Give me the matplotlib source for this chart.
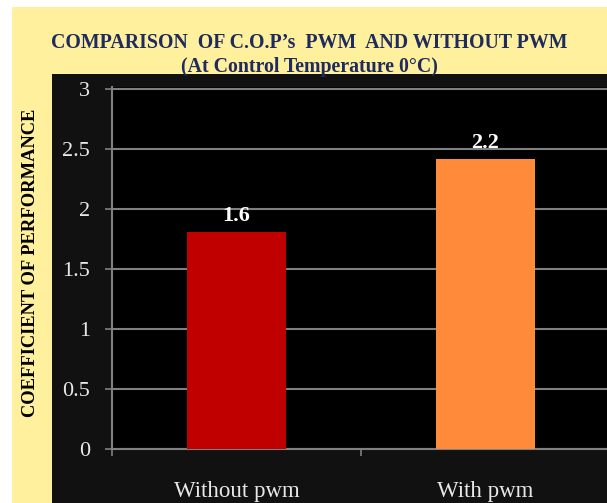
import matplotlib
matplotlib.use("Agg")
import matplotlib.pyplot as plt
from matplotlib.patches import Rectangle

categories = ["Without pwm", "With pwm"]
values = [1.81, 2.42]
value_labels = ["1.6", "2.2"]
bar_colors = ["#C00000", "#FF8B3A"]
yticks = [0, 0.5, 1, 1.5, 2, 2.5, 3]
ytick_labels = ["0", "0.5", "1", "1.5", "2", "2.5", "3"]

W, H = 607, 503
fig = plt.figure(figsize=(W / 100, H / 100), dpi=100)
fig.patch.set_facecolor("white")

def px_rect(x0, y0, x1, y1, color, z):
    fig.patches.append(Rectangle((x0 / W, 1 - y1 / H), (x1 - x0) / W, (y1 - y0) / H,
                                 transform=fig.transFigure, facecolor=color,
                                 edgecolor="none", zorder=z))

px_rect(12, 7, W, H, "#FEF09C", 0)
px_rect(52, 74, W, H, "#111111", 1)

serif = ["Liberation Serif", "DejaVu Serif"]

ax_left, ax_right = 112, 610
ax_bottom = 449
ymax = 3.02
ppu = 120
ax_top = ax_bottom - ymax * ppu
ax = fig.add_axes([ax_left / W, 1 - ax_bottom / H, (ax_right - ax_left) / W, (ax_bottom - ax_top) / H])
ax.set_facecolor("black")
ax.set_zorder(2)

x = list(range(len(categories)))
ax.bar(x, values, width=0.40, color=bar_colors, zorder=3)
for xi, v, lab in zip(x, values, value_labels):
    ax.annotate(lab, (xi, v), xytext=(0, 4), textcoords="offset points",
                ha="center", va="bottom", color="white", fontsize=16,
                fontweight="bold", family=serif, zorder=4)

ax.set_xlim(-0.5, 1.5)
ax.set_ylim(0, ymax)
ax.set_yticks(yticks)
ax.set_yticklabels(ytick_labels, family=serif, fontsize=16, color="#E8E8E8")
ax.yaxis.grid(True, color="#808080", linewidth=1.5, zorder=1)
ax.set_axisbelow(True)
ax.tick_params(axis="y", direction="out", length=5, width=1.2, color="#808080", pad=11)

ax.set_xticks(x)
ax.set_xticklabels(categories, family=serif, fontsize=16.5, color="#E8E8E8")
ax.tick_params(axis="x", which="major", length=0, pad=23)
ax.set_xticks([-0.5, 0.5, 1.5], minor=True)
ax.tick_params(axis="x", which="minor", direction="out", length=5, width=1.2, color="#808080")

for s in ["top", "right"]:
    ax.spines[s].set_visible(False)
for s in ["left", "bottom"]:
    ax.spines[s].set_color("#808080")
    ax.spines[s].set_linewidth(1.5)

fig.text(309 / W, 1 - 43 / H, "COMPARISON  OF C.O.P\u2019s  PWM  AND WITHOUT PWM",
         ha="center", va="center", fontsize=14.3, fontweight="bold", color="#1F2A5E", family=serif)
fig.text(309 / W, 1 - 67 / H, "(At Control Temperature 0\u00b0C)",
         ha="center", va="center", fontsize=14.3, fontweight="bold", color="#1F2A5E", family=serif)
fig.text(31 / W, 1 - 263 / H, "COEFFICIENT OF PERFORMANCE", rotation=90,
         ha="center", va="center", fontsize=13.3, fontweight="bold", color="black", family=serif)

fig.savefig("out.png", dpi=100)
